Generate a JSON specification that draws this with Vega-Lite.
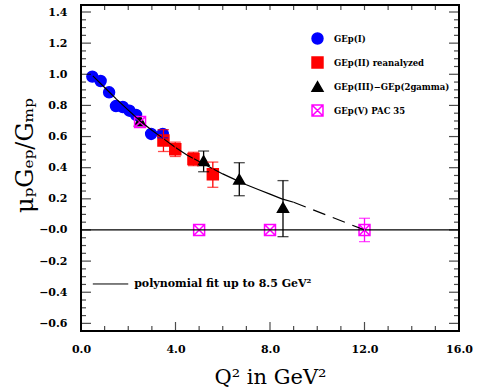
{
  "$schema": "https://vega.github.io/schema/vega-lite/v6.json",
  "autosize": "none",
  "width": 378,
  "height": 326,
  "padding": {"left": 81, "top": 5, "right": 31, "bottom": 56},
  "background": "white",
  "datasets": {
    "fit": [
      {"q": 0.5, "v": 0.99, "seg": "solid"},
      {"q": 1.0, "v": 0.915, "seg": "solid"},
      {"q": 1.5, "v": 0.84, "seg": "solid"},
      {"q": 2.0, "v": 0.77, "seg": "solid"},
      {"q": 2.5, "v": 0.70, "seg": "solid"},
      {"q": 3.0, "v": 0.64, "seg": "solid"},
      {"q": 3.5, "v": 0.585, "seg": "solid"},
      {"q": 4.0, "v": 0.53, "seg": "solid"},
      {"q": 4.5, "v": 0.48, "seg": "solid"},
      {"q": 5.0, "v": 0.44, "seg": "solid"},
      {"q": 5.5, "v": 0.40, "seg": "solid"},
      {"q": 6.0, "v": 0.36, "seg": "solid"},
      {"q": 6.5, "v": 0.325, "seg": "solid"},
      {"q": 7.0, "v": 0.29, "seg": "solid"},
      {"q": 7.5, "v": 0.26, "seg": "solid"},
      {"q": 8.0, "v": 0.23, "seg": "solid"},
      {"q": 8.5, "v": 0.20, "seg": "solid"},
      {"q": 9.0, "v": 0.178, "seg": "solid"},
      {"q": 9.0, "v": 0.178, "seg": "dashed"},
      {"q": 12.0, "v": 0.0, "seg": "dashed"}
    ],
    "pts": [
      {"q": 0.48, "v": 0.985, "series": "GEp(I)"},
      {"q": 0.83, "v": 0.957, "series": "GEp(I)"},
      {"q": 1.19, "v": 0.884, "series": "GEp(I)"},
      {"q": 1.48, "v": 0.796, "series": "GEp(I)"},
      {"q": 1.77, "v": 0.79, "series": "GEp(I)"},
      {"q": 2.05, "v": 0.766, "series": "GEp(I)"},
      {"q": 2.33, "v": 0.739, "series": "GEp(I)"},
      {"q": 2.97, "v": 0.617, "series": "GEp(I)"},
      {"q": 3.46, "v": 0.617, "series": "GEp(I)"},
      {"q": 3.49, "v": 0.574, "series": "GEp(II) reanalyzed"},
      {"q": 3.99, "v": 0.518, "series": "GEp(II) reanalyzed"},
      {"q": 4.76, "v": 0.456, "series": "GEp(II) reanalyzed"},
      {"q": 5.58, "v": 0.358, "series": "GEp(II) reanalyzed"},
      {"q": 2.5, "v": 0.70, "series": "GEp(III)−GEp(2gamma)"},
      {"q": 5.19, "v": 0.445, "series": "GEp(III)−GEp(2gamma)"},
      {"q": 6.7, "v": 0.326, "series": "GEp(III)−GEp(2gamma)"},
      {"q": 8.55, "v": 0.145, "series": "GEp(III)−GEp(2gamma)"},
      {"q": 2.5, "v": 0.694, "series": "GEp(V) PAC 35"},
      {"q": 5.0, "v": 0.0, "series": "GEp(V) PAC 35"},
      {"q": 8.0, "v": 0.0, "series": "GEp(V) PAC 35"},
      {"q": 12.0, "v": 0.0, "series": "GEp(V) PAC 35"}
    ],
    "err": [
      {"q": 3.46, "lo": 0.592, "hi": 0.642, "series": "GEp(I)"},
      {"q": 3.49, "lo": 0.504, "hi": 0.644, "series": "GEp(II) reanalyzed"},
      {"q": 3.99, "lo": 0.472, "hi": 0.564, "series": "GEp(II) reanalyzed"},
      {"q": 4.76, "lo": 0.413, "hi": 0.499, "series": "GEp(II) reanalyzed"},
      {"q": 5.58, "lo": 0.274, "hi": 0.436, "series": "GEp(II) reanalyzed"},
      {"q": 5.19, "lo": 0.374, "hi": 0.507, "series": "GEp(III)−GEp(2gamma)"},
      {"q": 6.7, "lo": 0.22, "hi": 0.432, "series": "GEp(III)−GEp(2gamma)"},
      {"q": 8.55, "lo": -0.043, "hi": 0.317, "series": "GEp(III)−GEp(2gamma)"},
      {"q": 12.0, "lo": -0.075, "hi": 0.075, "series": "GEp(V) PAC 35"}
    ],
    "note": [
      {"q0": 0.5, "q1": 2.0, "qt": 2.25, "v": -0.347, "label": "polynomial fit up to 8.5 GeV²"}
    ],
    "zero": [{"v": 0}],
    "xminor": [{"t": 1}, {"t": 2}, {"t": 3}, {"t": 5}, {"t": 6}, {"t": 7}, {"t": 9}, {"t": 10}, {"t": 11}, {"t": 13}, {"t": 14}, {"t": 15}],
    "xmajor": [{"t": 4}, {"t": 8}, {"t": 12}],
    "ymajor": [{"t": -0.6}, {"t": -0.4}, {"t": -0.2}, {"t": 0}, {"t": 0.2}, {"t": 0.4}, {"t": 0.6}, {"t": 0.8}, {"t": 1.0}, {"t": 1.2}, {"t": 1.4}],
    "yminor": [{"t": -0.55}, {"t": -0.5}, {"t": -0.45}, {"t": -0.35}, {"t": -0.3}, {"t": -0.25}, {"t": -0.15}, {"t": -0.1}, {"t": -0.05}, {"t": 0.05}, {"t": 0.1}, {"t": 0.15}, {"t": 0.25}, {"t": 0.3}, {"t": 0.35}, {"t": 0.45}, {"t": 0.5}, {"t": 0.55}, {"t": 0.65}, {"t": 0.7}, {"t": 0.75}, {"t": 0.85}, {"t": 0.9}, {"t": 0.95}, {"t": 1.05}, {"t": 1.1}, {"t": 1.15}, {"t": 1.25}, {"t": 1.3}, {"t": 1.35}]
  },
  "layer": [
    {
      "data": {"name": "pts"},
      "mark": {"type": "point", "filled": true, "size": 120, "strokeWidth": 1.5, "opacity": 1, "zindex": 2},
      "encoding": {
        "x": {"field": "q", "type": "quantitative", "title": "Q² in GeV²",
          "scale": {"domain": [0, 16], "nice": false, "zero": false},
          "axis": {"orient": "bottom", "values": [0, 4, 8, 12, 16], "format": ".1f", "ticks": false, "domain": false, "grid": false, "labelPadding": 12, "labelFont": "DejaVu Serif", "labelFontWeight": "bold", "labelFontSize": 11, "labelColor": "black", "labelFlush": false, "labelOverlap": false, "title": "Q² in GeV²", "titleFont": "DejaVu Serif", "titleFontWeight": "normal", "titleFontSize": 21, "titleColor": "black", "titleY": 52, "titleBaseline": "alphabetic"}},
        "y": {"field": "v", "type": "quantitative", "title": "μₚGₑₚ/Gₘₚ",
          "scale": {"domain": [-0.649, 1.445], "nice": false, "zero": false},
          "axis": {"orient": "left", "values": [-0.6, -0.4, -0.2, 0, 0.2, 0.4, 0.6, 0.8, 1.0, 1.2, 1.4], "labelExpr": "(datum.value < 0.001 ? '−' : '') + format(abs(datum.value), '.1f')", "ticks": false, "domain": false, "grid": false, "labelPadding": 14, "labelFont": "DejaVu Serif", "labelFontWeight": "bold", "labelFontSize": 11, "labelColor": "black", "labelOverlap": false, "labelFlush": false, "title": "μₚGₑₚ/Gₘₚ", "titleFont": "DejaVu Serif", "titleFontWeight": "normal", "titleFontSize": 24, "titleColor": "black", "titleX": -56, "titleY": 150, "titleAngle": -90, "titleAlign": "center", "titleBaseline": "middle"}},
        "shape": {"field": "series", "type": "nominal",
          "scale": {"domain": ["GEp(I)", "GEp(II) reanalyzed", "GEp(III)−GEp(2gamma)", "GEp(V) PAC 35"], "range": ["circle", "square", "triangle-up", "M-1,-1H1V1H-1ZM-1,-1L1,1M1,-1L-1,1"]},
          "legend": {"orient": "none", "legendX": 230, "legendY": 27, "encode": {"labels": {"update": {"fill": {"scale": "stroke", "field": "value"}}}}}},
        "fill": {"field": "series", "type": "nominal",
          "scale": {"domain": ["GEp(I)", "GEp(II) reanalyzed", "GEp(III)−GEp(2gamma)", "GEp(V) PAC 35"], "range": ["#0000FF", "#FF0000", "#000000", "transparent"]}},
        "stroke": {"field": "series", "type": "nominal",
          "scale": {"domain": ["GEp(I)", "GEp(II) reanalyzed", "GEp(III)−GEp(2gamma)", "GEp(V) PAC 35"], "range": ["#0000FF", "#FF0000", "#000000", "#FF00FF"]}}
      }
    },
    {
      "data": {"name": "zero"},
      "mark": {"type": "rule", "color": "black", "strokeWidth": 1.2, "zindex": 0},
      "encoding": {
        "y": {"field": "v", "type": "quantitative", "title": "μₚGₑₚ/Gₘₚ",
          "axis": {"orient": "left", "values": [-0.6, -0.4, -0.2, 0, 0.2, 0.4, 0.6, 0.8, 1.0, 1.2, 1.4], "labelExpr": "(datum.value < 0.001 ? '−' : '') + format(abs(datum.value), '.1f')", "ticks": false, "domain": false, "grid": false, "labelPadding": 14, "labelFont": "DejaVu Serif", "labelFontWeight": "bold", "labelFontSize": 11, "labelColor": "black", "labelOverlap": false, "labelFlush": false, "title": "μₚGₑₚ/Gₘₚ", "titleFont": "DejaVu Serif", "titleFontWeight": "normal", "titleFontSize": 24, "titleColor": "black", "titleX": -56, "titleY": 150, "titleAngle": -90, "titleAlign": "center", "titleBaseline": "middle"}}
      }
    },
    {
      "data": {"name": "fit"},
      "transform": [{"filter": "datum.seg === 'solid'"}],
      "mark": {"type": "line", "color": "black", "strokeWidth": 1.2, "zindex": 0},
      "encoding": {
        "x": {"field": "q", "type": "quantitative", "title": "Q² in GeV²",
          "axis": {"orient": "bottom", "values": [0, 4, 8, 12, 16], "format": ".1f", "ticks": false, "domain": false, "grid": false, "labelPadding": 12, "labelFont": "DejaVu Serif", "labelFontWeight": "bold", "labelFontSize": 11, "labelColor": "black", "labelFlush": false, "labelOverlap": false, "title": "Q² in GeV²", "titleFont": "DejaVu Serif", "titleFontWeight": "normal", "titleFontSize": 21, "titleColor": "black", "titleY": 52, "titleBaseline": "alphabetic"}},
        "y": {"field": "v", "type": "quantitative", "title": "μₚGₑₚ/Gₘₚ",
          "axis": {"orient": "left", "values": [-0.6, -0.4, -0.2, 0, 0.2, 0.4, 0.6, 0.8, 1.0, 1.2, 1.4], "labelExpr": "(datum.value < 0.001 ? '−' : '') + format(abs(datum.value), '.1f')", "ticks": false, "domain": false, "grid": false, "labelPadding": 14, "labelFont": "DejaVu Serif", "labelFontWeight": "bold", "labelFontSize": 11, "labelColor": "black", "labelOverlap": false, "labelFlush": false, "title": "μₚGₑₚ/Gₘₚ", "titleFont": "DejaVu Serif", "titleFontWeight": "normal", "titleFontSize": 24, "titleColor": "black", "titleX": -56, "titleY": 150, "titleAngle": -90, "titleAlign": "center", "titleBaseline": "middle"}}
      }
    },
    {
      "data": {"name": "fit"},
      "transform": [{"filter": "datum.seg === 'dashed'"}],
      "mark": {"type": "line", "color": "black", "strokeWidth": 1.2, "strokeDash": [13, 8], "zindex": 0},
      "encoding": {
        "x": {"field": "q", "type": "quantitative", "title": "Q² in GeV²",
          "axis": {"orient": "bottom", "values": [0, 4, 8, 12, 16], "format": ".1f", "ticks": false, "domain": false, "grid": false, "labelPadding": 12, "labelFont": "DejaVu Serif", "labelFontWeight": "bold", "labelFontSize": 11, "labelColor": "black", "labelFlush": false, "labelOverlap": false, "title": "Q² in GeV²", "titleFont": "DejaVu Serif", "titleFontWeight": "normal", "titleFontSize": 21, "titleColor": "black", "titleY": 52, "titleBaseline": "alphabetic"}},
        "y": {"field": "v", "type": "quantitative", "title": "μₚGₑₚ/Gₘₚ",
          "axis": {"orient": "left", "values": [-0.6, -0.4, -0.2, 0, 0.2, 0.4, 0.6, 0.8, 1.0, 1.2, 1.4], "labelExpr": "(datum.value < 0.001 ? '−' : '') + format(abs(datum.value), '.1f')", "ticks": false, "domain": false, "grid": false, "labelPadding": 14, "labelFont": "DejaVu Serif", "labelFontWeight": "bold", "labelFontSize": 11, "labelColor": "black", "labelOverlap": false, "labelFlush": false, "title": "μₚGₑₚ/Gₘₚ", "titleFont": "DejaVu Serif", "titleFontWeight": "normal", "titleFontSize": 24, "titleColor": "black", "titleX": -56, "titleY": 150, "titleAngle": -90, "titleAlign": "center", "titleBaseline": "middle"}}
      }
    },
    {
      "data": {"name": "err"},
      "mark": {"type": "errorbar", "ticks": {"size": 11}, "thickness": 1.3},
      "encoding": {
        "x": {"field": "q", "type": "quantitative", "title": "Q² in GeV²",
          "axis": {"orient": "bottom", "values": [0, 4, 8, 12, 16], "format": ".1f", "ticks": false, "domain": false, "grid": false, "labelPadding": 12, "labelFont": "DejaVu Serif", "labelFontWeight": "bold", "labelFontSize": 11, "labelColor": "black", "labelFlush": false, "labelOverlap": false, "title": "Q² in GeV²", "titleFont": "DejaVu Serif", "titleFontWeight": "normal", "titleFontSize": 21, "titleColor": "black", "titleY": 52, "titleBaseline": "alphabetic"}},
        "y": {"field": "lo", "type": "quantitative", "title": "μₚGₑₚ/Gₘₚ",
          "axis": {"orient": "left", "values": [-0.6, -0.4, -0.2, 0, 0.2, 0.4, 0.6, 0.8, 1.0, 1.2, 1.4], "labelExpr": "(datum.value < 0.001 ? '−' : '') + format(abs(datum.value), '.1f')", "ticks": false, "domain": false, "grid": false, "labelPadding": 14, "labelFont": "DejaVu Serif", "labelFontWeight": "bold", "labelFontSize": 11, "labelColor": "black", "labelOverlap": false, "labelFlush": false, "title": "μₚGₑₚ/Gₘₚ", "titleFont": "DejaVu Serif", "titleFontWeight": "normal", "titleFontSize": 24, "titleColor": "black", "titleX": -56, "titleY": 150, "titleAngle": -90, "titleAlign": "center", "titleBaseline": "middle"}},
        "y2": {"field": "hi"},
        "color": {"field": "series", "type": "nominal",
          "scale": {"domain": ["GEp(I)", "GEp(II) reanalyzed", "GEp(III)−GEp(2gamma)", "GEp(V) PAC 35"], "range": ["#0000FF", "#FF0000", "#000000", "#FF00FF"]},
          "legend": null}
      }
    },
    {
      "data": {"name": "note"},
      "mark": {"type": "rule", "color": "black", "strokeWidth": 1},
      "encoding": {
        "x": {"field": "q0", "type": "quantitative", "title": "Q² in GeV²",
          "axis": {"orient": "bottom", "values": [0, 4, 8, 12, 16], "format": ".1f", "ticks": false, "domain": false, "grid": false, "labelPadding": 12, "labelFont": "DejaVu Serif", "labelFontWeight": "bold", "labelFontSize": 11, "labelColor": "black", "labelFlush": false, "labelOverlap": false, "title": "Q² in GeV²", "titleFont": "DejaVu Serif", "titleFontWeight": "normal", "titleFontSize": 21, "titleColor": "black", "titleY": 52, "titleBaseline": "alphabetic"}},
        "x2": {"field": "q1"},
        "y": {"field": "v", "type": "quantitative", "title": "μₚGₑₚ/Gₘₚ",
          "axis": {"orient": "left", "values": [-0.6, -0.4, -0.2, 0, 0.2, 0.4, 0.6, 0.8, 1.0, 1.2, 1.4], "labelExpr": "(datum.value < 0.001 ? '−' : '') + format(abs(datum.value), '.1f')", "ticks": false, "domain": false, "grid": false, "labelPadding": 14, "labelFont": "DejaVu Serif", "labelFontWeight": "bold", "labelFontSize": 11, "labelColor": "black", "labelOverlap": false, "labelFlush": false, "title": "μₚGₑₚ/Gₘₚ", "titleFont": "DejaVu Serif", "titleFontWeight": "normal", "titleFontSize": 24, "titleColor": "black", "titleX": -56, "titleY": 150, "titleAngle": -90, "titleAlign": "center", "titleBaseline": "middle"}}
      }
    },
    {
      "data": {"name": "note"},
      "mark": {"type": "text", "align": "left", "baseline": "middle", "font": "DejaVu Serif", "fontWeight": "bold", "fontSize": 11, "color": "black"},
      "encoding": {
        "x": {"field": "qt", "type": "quantitative", "title": "Q² in GeV²",
          "axis": {"orient": "bottom", "values": [0, 4, 8, 12, 16], "format": ".1f", "ticks": false, "domain": false, "grid": false, "labelPadding": 12, "labelFont": "DejaVu Serif", "labelFontWeight": "bold", "labelFontSize": 11, "labelColor": "black", "labelFlush": false, "labelOverlap": false, "title": "Q² in GeV²", "titleFont": "DejaVu Serif", "titleFontWeight": "normal", "titleFontSize": 21, "titleColor": "black", "titleY": 52, "titleBaseline": "alphabetic"}},
        "y": {"field": "v", "type": "quantitative", "title": "μₚGₑₚ/Gₘₚ",
          "axis": {"orient": "left", "values": [-0.6, -0.4, -0.2, 0, 0.2, 0.4, 0.6, 0.8, 1.0, 1.2, 1.4], "labelExpr": "(datum.value < 0.001 ? '−' : '') + format(abs(datum.value), '.1f')", "ticks": false, "domain": false, "grid": false, "labelPadding": 14, "labelFont": "DejaVu Serif", "labelFontWeight": "bold", "labelFontSize": 11, "labelColor": "black", "labelOverlap": false, "labelFlush": false, "title": "μₚGₑₚ/Gₘₚ", "titleFont": "DejaVu Serif", "titleFontWeight": "normal", "titleFontSize": 24, "titleColor": "black", "titleX": -56, "titleY": 150, "titleAngle": -90, "titleAlign": "center", "titleBaseline": "middle"}},
        "text": {"field": "label"}
      }
    },
    {
      "data": {"name": "xminor"},
      "mark": {"type": "tick", "orient": "vertical", "color": "black", "size": 5, "thickness": 1.2, "yOffset": -2.5},
      "encoding": {
        "x": {"field": "t", "type": "quantitative", "title": "Q² in GeV²",
          "axis": {"orient": "bottom", "values": [0, 4, 8, 12, 16], "format": ".1f", "ticks": false, "domain": false, "grid": false, "labelPadding": 12, "labelFont": "DejaVu Serif", "labelFontWeight": "bold", "labelFontSize": 11, "labelColor": "black", "labelFlush": false, "labelOverlap": false, "title": "Q² in GeV²", "titleFont": "DejaVu Serif", "titleFontWeight": "normal", "titleFontSize": 21, "titleColor": "black", "titleY": 52, "titleBaseline": "alphabetic"}},
        "y": {"datum": -0.649, "type": "quantitative", "title": "μₚGₑₚ/Gₘₚ",
          "axis": {"orient": "left", "values": [-0.6, -0.4, -0.2, 0, 0.2, 0.4, 0.6, 0.8, 1.0, 1.2, 1.4], "labelExpr": "(datum.value < 0.001 ? '−' : '') + format(abs(datum.value), '.1f')", "ticks": false, "domain": false, "grid": false, "labelPadding": 14, "labelFont": "DejaVu Serif", "labelFontWeight": "bold", "labelFontSize": 11, "labelColor": "black", "labelOverlap": false, "labelFlush": false, "title": "μₚGₑₚ/Gₘₚ", "titleFont": "DejaVu Serif", "titleFontWeight": "normal", "titleFontSize": 24, "titleColor": "black", "titleX": -56, "titleY": 150, "titleAngle": -90, "titleAlign": "center", "titleBaseline": "middle"}}
      }
    },
    {
      "data": {"name": "xmajor"},
      "mark": {"type": "tick", "orient": "vertical", "color": "black", "size": 9, "thickness": 1.2, "yOffset": -4.5},
      "encoding": {
        "x": {"field": "t", "type": "quantitative", "title": "Q² in GeV²",
          "axis": {"orient": "bottom", "values": [0, 4, 8, 12, 16], "format": ".1f", "ticks": false, "domain": false, "grid": false, "labelPadding": 12, "labelFont": "DejaVu Serif", "labelFontWeight": "bold", "labelFontSize": 11, "labelColor": "black", "labelFlush": false, "labelOverlap": false, "title": "Q² in GeV²", "titleFont": "DejaVu Serif", "titleFontWeight": "normal", "titleFontSize": 21, "titleColor": "black", "titleY": 52, "titleBaseline": "alphabetic"}},
        "y": {"datum": -0.649, "type": "quantitative", "title": "μₚGₑₚ/Gₘₚ",
          "axis": {"orient": "left", "values": [-0.6, -0.4, -0.2, 0, 0.2, 0.4, 0.6, 0.8, 1.0, 1.2, 1.4], "labelExpr": "(datum.value < 0.001 ? '−' : '') + format(abs(datum.value), '.1f')", "ticks": false, "domain": false, "grid": false, "labelPadding": 14, "labelFont": "DejaVu Serif", "labelFontWeight": "bold", "labelFontSize": 11, "labelColor": "black", "labelOverlap": false, "labelFlush": false, "title": "μₚGₑₚ/Gₘₚ", "titleFont": "DejaVu Serif", "titleFontWeight": "normal", "titleFontSize": 24, "titleColor": "black", "titleX": -56, "titleY": 150, "titleAngle": -90, "titleAlign": "center", "titleBaseline": "middle"}}
      }
    },
    {
      "data": {"name": "xminor"},
      "mark": {"type": "tick", "orient": "vertical", "color": "black", "size": 5, "thickness": 1.2, "yOffset": 2.5},
      "encoding": {
        "x": {"field": "t", "type": "quantitative", "title": "Q² in GeV²",
          "axis": {"orient": "bottom", "values": [0, 4, 8, 12, 16], "format": ".1f", "ticks": false, "domain": false, "grid": false, "labelPadding": 12, "labelFont": "DejaVu Serif", "labelFontWeight": "bold", "labelFontSize": 11, "labelColor": "black", "labelFlush": false, "labelOverlap": false, "title": "Q² in GeV²", "titleFont": "DejaVu Serif", "titleFontWeight": "normal", "titleFontSize": 21, "titleColor": "black", "titleY": 52, "titleBaseline": "alphabetic"}},
        "y": {"datum": 1.445, "type": "quantitative", "title": "μₚGₑₚ/Gₘₚ",
          "axis": {"orient": "left", "values": [-0.6, -0.4, -0.2, 0, 0.2, 0.4, 0.6, 0.8, 1.0, 1.2, 1.4], "labelExpr": "(datum.value < 0.001 ? '−' : '') + format(abs(datum.value), '.1f')", "ticks": false, "domain": false, "grid": false, "labelPadding": 14, "labelFont": "DejaVu Serif", "labelFontWeight": "bold", "labelFontSize": 11, "labelColor": "black", "labelOverlap": false, "labelFlush": false, "title": "μₚGₑₚ/Gₘₚ", "titleFont": "DejaVu Serif", "titleFontWeight": "normal", "titleFontSize": 24, "titleColor": "black", "titleX": -56, "titleY": 150, "titleAngle": -90, "titleAlign": "center", "titleBaseline": "middle"}}
      }
    },
    {
      "data": {"name": "xmajor"},
      "mark": {"type": "tick", "orient": "vertical", "color": "black", "size": 5, "thickness": 1.2, "yOffset": 2.5},
      "encoding": {
        "x": {"field": "t", "type": "quantitative", "title": "Q² in GeV²",
          "axis": {"orient": "bottom", "values": [0, 4, 8, 12, 16], "format": ".1f", "ticks": false, "domain": false, "grid": false, "labelPadding": 12, "labelFont": "DejaVu Serif", "labelFontWeight": "bold", "labelFontSize": 11, "labelColor": "black", "labelFlush": false, "labelOverlap": false, "title": "Q² in GeV²", "titleFont": "DejaVu Serif", "titleFontWeight": "normal", "titleFontSize": 21, "titleColor": "black", "titleY": 52, "titleBaseline": "alphabetic"}},
        "y": {"datum": 1.445, "type": "quantitative", "title": "μₚGₑₚ/Gₘₚ",
          "axis": {"orient": "left", "values": [-0.6, -0.4, -0.2, 0, 0.2, 0.4, 0.6, 0.8, 1.0, 1.2, 1.4], "labelExpr": "(datum.value < 0.001 ? '−' : '') + format(abs(datum.value), '.1f')", "ticks": false, "domain": false, "grid": false, "labelPadding": 14, "labelFont": "DejaVu Serif", "labelFontWeight": "bold", "labelFontSize": 11, "labelColor": "black", "labelOverlap": false, "labelFlush": false, "title": "μₚGₑₚ/Gₘₚ", "titleFont": "DejaVu Serif", "titleFontWeight": "normal", "titleFontSize": 24, "titleColor": "black", "titleX": -56, "titleY": 150, "titleAngle": -90, "titleAlign": "center", "titleBaseline": "middle"}}
      }
    },
    {
      "data": {"name": "yminor"},
      "mark": {"type": "tick", "orient": "horizontal", "color": "black", "size": 5, "thickness": 1.2, "xOffset": 2.5},
      "encoding": {
        "y": {"field": "t", "type": "quantitative", "title": "μₚGₑₚ/Gₘₚ",
          "axis": {"orient": "left", "values": [-0.6, -0.4, -0.2, 0, 0.2, 0.4, 0.6, 0.8, 1.0, 1.2, 1.4], "labelExpr": "(datum.value < 0.001 ? '−' : '') + format(abs(datum.value), '.1f')", "ticks": false, "domain": false, "grid": false, "labelPadding": 14, "labelFont": "DejaVu Serif", "labelFontWeight": "bold", "labelFontSize": 11, "labelColor": "black", "labelOverlap": false, "labelFlush": false, "title": "μₚGₑₚ/Gₘₚ", "titleFont": "DejaVu Serif", "titleFontWeight": "normal", "titleFontSize": 24, "titleColor": "black", "titleX": -56, "titleY": 150, "titleAngle": -90, "titleAlign": "center", "titleBaseline": "middle"}},
        "x": {"datum": 0, "type": "quantitative", "title": "Q² in GeV²",
          "axis": {"orient": "bottom", "values": [0, 4, 8, 12, 16], "format": ".1f", "ticks": false, "domain": false, "grid": false, "labelPadding": 12, "labelFont": "DejaVu Serif", "labelFontWeight": "bold", "labelFontSize": 11, "labelColor": "black", "labelFlush": false, "labelOverlap": false, "title": "Q² in GeV²", "titleFont": "DejaVu Serif", "titleFontWeight": "normal", "titleFontSize": 21, "titleColor": "black", "titleY": 52, "titleBaseline": "alphabetic"}}
      }
    },
    {
      "data": {"name": "ymajor"},
      "mark": {"type": "tick", "orient": "horizontal", "color": "black", "size": 10, "thickness": 1.2, "xOffset": 5},
      "encoding": {
        "y": {"field": "t", "type": "quantitative", "title": "μₚGₑₚ/Gₘₚ",
          "axis": {"orient": "left", "values": [-0.6, -0.4, -0.2, 0, 0.2, 0.4, 0.6, 0.8, 1.0, 1.2, 1.4], "labelExpr": "(datum.value < 0.001 ? '−' : '') + format(abs(datum.value), '.1f')", "ticks": false, "domain": false, "grid": false, "labelPadding": 14, "labelFont": "DejaVu Serif", "labelFontWeight": "bold", "labelFontSize": 11, "labelColor": "black", "labelOverlap": false, "labelFlush": false, "title": "μₚGₑₚ/Gₘₚ", "titleFont": "DejaVu Serif", "titleFontWeight": "normal", "titleFontSize": 24, "titleColor": "black", "titleX": -56, "titleY": 150, "titleAngle": -90, "titleAlign": "center", "titleBaseline": "middle"}},
        "x": {"datum": 0, "type": "quantitative", "title": "Q² in GeV²",
          "axis": {"orient": "bottom", "values": [0, 4, 8, 12, 16], "format": ".1f", "ticks": false, "domain": false, "grid": false, "labelPadding": 12, "labelFont": "DejaVu Serif", "labelFontWeight": "bold", "labelFontSize": 11, "labelColor": "black", "labelFlush": false, "labelOverlap": false, "title": "Q² in GeV²", "titleFont": "DejaVu Serif", "titleFontWeight": "normal", "titleFontSize": 21, "titleColor": "black", "titleY": 52, "titleBaseline": "alphabetic"}}
      }
    },
    {
      "data": {"name": "yminor"},
      "mark": {"type": "tick", "orient": "horizontal", "color": "black", "size": 5, "thickness": 1.2, "xOffset": -2.5},
      "encoding": {
        "y": {"field": "t", "type": "quantitative", "title": "μₚGₑₚ/Gₘₚ",
          "axis": {"orient": "left", "values": [-0.6, -0.4, -0.2, 0, 0.2, 0.4, 0.6, 0.8, 1.0, 1.2, 1.4], "labelExpr": "(datum.value < 0.001 ? '−' : '') + format(abs(datum.value), '.1f')", "ticks": false, "domain": false, "grid": false, "labelPadding": 14, "labelFont": "DejaVu Serif", "labelFontWeight": "bold", "labelFontSize": 11, "labelColor": "black", "labelOverlap": false, "labelFlush": false, "title": "μₚGₑₚ/Gₘₚ", "titleFont": "DejaVu Serif", "titleFontWeight": "normal", "titleFontSize": 24, "titleColor": "black", "titleX": -56, "titleY": 150, "titleAngle": -90, "titleAlign": "center", "titleBaseline": "middle"}},
        "x": {"datum": 16, "type": "quantitative", "title": "Q² in GeV²",
          "axis": {"orient": "bottom", "values": [0, 4, 8, 12, 16], "format": ".1f", "ticks": false, "domain": false, "grid": false, "labelPadding": 12, "labelFont": "DejaVu Serif", "labelFontWeight": "bold", "labelFontSize": 11, "labelColor": "black", "labelFlush": false, "labelOverlap": false, "title": "Q² in GeV²", "titleFont": "DejaVu Serif", "titleFontWeight": "normal", "titleFontSize": 21, "titleColor": "black", "titleY": 52, "titleBaseline": "alphabetic"}}
      }
    },
    {
      "data": {"name": "ymajor"},
      "mark": {"type": "tick", "orient": "horizontal", "color": "black", "size": 10, "thickness": 1.2, "xOffset": -5},
      "encoding": {
        "y": {"field": "t", "type": "quantitative", "title": "μₚGₑₚ/Gₘₚ",
          "axis": {"orient": "left", "values": [-0.6, -0.4, -0.2, 0, 0.2, 0.4, 0.6, 0.8, 1.0, 1.2, 1.4], "labelExpr": "(datum.value < 0.001 ? '−' : '') + format(abs(datum.value), '.1f')", "ticks": false, "domain": false, "grid": false, "labelPadding": 14, "labelFont": "DejaVu Serif", "labelFontWeight": "bold", "labelFontSize": 11, "labelColor": "black", "labelOverlap": false, "labelFlush": false, "title": "μₚGₑₚ/Gₘₚ", "titleFont": "DejaVu Serif", "titleFontWeight": "normal", "titleFontSize": 24, "titleColor": "black", "titleX": -56, "titleY": 150, "titleAngle": -90, "titleAlign": "center", "titleBaseline": "middle"}},
        "x": {"datum": 16, "type": "quantitative", "title": "Q² in GeV²",
          "axis": {"orient": "bottom", "values": [0, 4, 8, 12, 16], "format": ".1f", "ticks": false, "domain": false, "grid": false, "labelPadding": 12, "labelFont": "DejaVu Serif", "labelFontWeight": "bold", "labelFontSize": 11, "labelColor": "black", "labelFlush": false, "labelOverlap": false, "title": "Q² in GeV²", "titleFont": "DejaVu Serif", "titleFontWeight": "normal", "titleFontSize": 21, "titleColor": "black", "titleY": 52, "titleBaseline": "alphabetic"}}
      }
    }
  ],
  "config": {
    "view": {"stroke": "black", "strokeWidth": 2},
    "axis": {"grid": false, "domain": false, "tickColor": "black", "labelColor": "black", "titleColor": "black", "labelOverlap": false, "labelFlush": false},
    "legend": {"title": null, "symbolSize": 120, "symbolStrokeWidth": 1.5, "labelFont": "DejaVu Serif", "labelFontWeight": "bold", "labelFontSize": 8.5, "labelOffset": 10, "rowPadding": 7, "padding": 0}
  }
}
